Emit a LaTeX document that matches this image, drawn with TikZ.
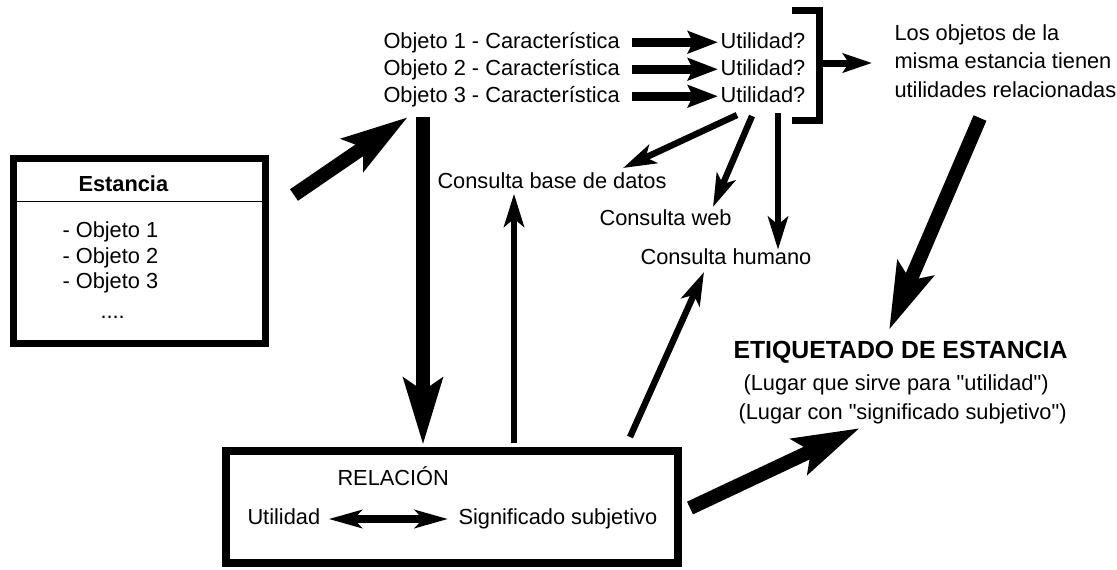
\documentclass[tikz,border=0pt]{standalone}
\usepackage{fontspec}
\setmainfont{Liberation Sans}
\usetikzlibrary{arrows.meta}
\begin{document}
\begin{tikzpicture}[x=0.5pt, y=-0.5pt, line width=0.5pt,
  txt/.style={anchor=base west, inner sep=0pt, font=\fontsize{10.9pt}{13pt}\selectfont},
  boldtxt/.style={txt, font=\fontsize{10.9pt}{13pt}\selectfont\bfseries},
  box/.style={draw, line width=4pt, inner sep=0pt},
  bigarrow/.style={line width=7pt, -{Stealth[length=33pt, width=19pt, inset=6pt]}},
  midarrow/.style={line width=3.2pt, -{Stealth[length=16.5pt, width=10pt, inset=4pt]}},
  rowarrow/.style={line width=4.5pt, -{Stealth[length=15pt, width=11pt, inset=2.5pt]}},
  brkarrow/.style={line width=3.5pt, -{Stealth[length=14.5pt, width=9.5pt, inset=3pt]}}]
  \useasboundingbox (0,0) rectangle (1117,569);

  % estancia box
  \node[box, line width=3.5pt, minimum width=126pt, minimum height=92.5pt] (est) at (139.5,251) {};
  \draw (est.west |- 0,201) -- (est.east |- 0,201);
  \node[boldtxt] (esttl) at (78,191) {Estancia};
  \node[txt] (eo1) at (62,237) {- Objeto 1};
  \node[txt] (eo2) at (62,263) {- Objeto 2};
  \node[txt] (eo3) at (62,288) {- Objeto 3};
  \node[txt] (edots) at (100,318) {....};

  % objects and utilities
  \node[txt] (c1) at (383,48) {Objeto 1 - Característica};
  \node[txt] (c2) at (383,75) {Objeto 2 - Característica};
  \node[txt] (c3) at (383,102) {Objeto 3 - Característica};
  \node[txt] (u1) at (720,48) {Utilidad?};
  \node[txt] (u2) at (720,75) {Utilidad?};
  \node[txt] (u3) at (720,102) {Utilidad?};
  \foreach \i in {1,2,3}
    \draw[rowarrow, shorten <=6pt, shorten >=1pt] (c\i.east) -- (c\i.east -| u\i.west);

  \draw[line width=3.5pt, line join=miter] (792,10) -- (819,10) -- (819,120) -- (792,120);
  \node[txt] (lob1) at (894,40) {Los objetos de la};
  \node[txt] (lob2) at (894,68) {misma estancia tienen};
  \node[txt] (lob3) at (894,97) {utilidades relacionadas};
  \coordinate (brk) at (819,63);
  \draw[brkarrow, shorten >=11pt] (brk) -- (brk -| lob2.west);

  % queries
  \node[txt] (cbd) at (437,188) {Consulta base de datos};
  \node[txt] (cweb) at (599,225) {Consulta web};
  \node[txt] (chum) at (640,264) {Consulta humano};
  \coordinate (q1) at (737,115);
  \coordinate (q2) at (752,116);
  \coordinate (q3) at (778,113);
  \coordinate (cq1) at (623,168);
  \coordinate (cq2) at (713,207);
  \draw[midarrow] (q1) -- (cq1);
  \draw[midarrow] (q2) -- (cq2);
  \draw[midarrow, shorten >=-1pt] (q3) -- (q3 |- chum.north);

  % relation box
  \node[box, minimum width=226pt, minimum height=56pt] (rel) at (452,507) {};
  \node[txt] (rtl) at (337,485) {RELACIÓN};
  \node[txt] (rut) at (247,524) {Utilidad};
  \node[txt] (rsig) at (458,524) {Significado subjetivo};
  \draw[line width=4pt, {Stealth[length=16.5pt, width=9pt, inset=4pt]}-{Stealth[length=16.5pt, width=9pt, inset=4pt]},
    shorten <=4pt, shorten >=5pt] (rut.east |- 0,519) -- (rsig.west |- 0,519);
  \coordinate (r1) at (514,443);
  \coordinate (r2) at (630,437);
  \coordinate (cq4) at (704,272);
  \draw[midarrow, shorten >=2.5pt] (r1) -- (r1 |- cbd.south);
  \draw[midarrow] (r2) -- (cq4);

  % labelling
  \node[txt, font=\fontsize{12.4pt}{15pt}\selectfont\bfseries] (etq) at (733,358) {ETIQUETADO DE ESTANCIA};
  \node[txt] (etq1) at (743,390) {(Lugar que sirve para \textquotedbl utilidad\textquotedbl)};
  \node[txt] (etq2) at (738,419) {(Lugar con \textquotedbl significado subjetivo\textquotedbl)};

  % big arrows
  \coordinate (a1) at (294,195);
  \coordinate (a1t) at (408,117);
  \coordinate (a2) at (423,117);
  \coordinate (a3) at (690,508);
  \coordinate (a3t) at (860,428);
  \coordinate (a4) at (980,118);
  \coordinate (a4t) at (889,330);
  \draw[bigarrow] (a1) -- (a1t);
  \draw[bigarrow, shorten >=1pt] (a2) -- (a2 |- rel.north);
  \draw[bigarrow] (a3) -- (a3t);
  \draw[bigarrow] (a4) -- (a4t);
\end{tikzpicture}
\end{document}
